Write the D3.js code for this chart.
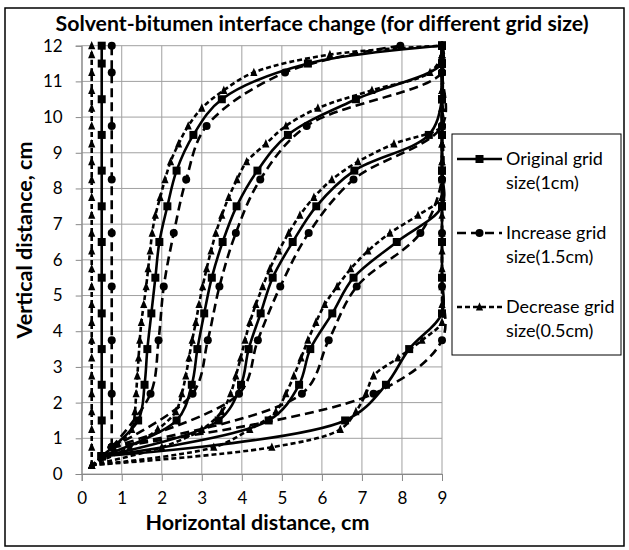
<!DOCTYPE html>
<html><head><meta charset="utf-8">
<script src="https://cdn.jsdelivr.net/npm/d3@7"></script>
<style>body{margin:0;background:#fff;} text{font-family:Lato,'Open Sans',sans-serif;fill:#000;}</style>
</head><body><svg id="c" width="629" height="550"></svg>
<script>
// ---- data ----
const title = "Solvent-bitumen interface change (for different grid size)";
const xLabel = "Horizontal distance, cm";
const yLabel = "Vertical distance, cm";
const xTicks = [0,1,2,3,4,5,6,7,8,9];
const yTicks = [0,1,2,3,4,5,6,7,8,9,10,11,12];
const seriesNames = [["Original grid","size(1cm)"],["Increase grid","size(1.5cm)"],["Decrease grid","size(0.5cm)"]];

// Original grid (1cm): vertical positions and interface x for 6 time steps
const yOrig = [0.5,1.5,2.5,3.5,4.5,5.5,6.5,7.5,8.5,9.5,10.5,11.5,12];
const orig1 = [0.5,0.5,0.5,0.5,0.5,0.5,0.5,0.5,0.5,0.5,0.5,0.5,0.5];
const orig2 = [0.5,1.41,1.57,1.64,1.74,1.84,1.94,2.14,2.37,2.79,3.5,5.65,9];
const orig3 = [0.5,2.37,2.75,2.89,3.06,3.25,3.52,3.87,4.39,5.15,6.85,9,9];
const orig4 = [0.5,3.42,3.98,4.17,4.47,4.77,5.27,5.86,6.81,8.67,9,9,9];
const orig5 = [0.5,4.67,5.43,5.71,6.26,6.79,7.87,9,9,9,9,9,9];
const orig6 = [0.5,6.58,7.6,8.18,9,9,9,9,9,9,9,9,9];

// Increase grid (1.5cm)
const yInc = [0.75,2.25,3.75,5.25,6.75,8.25,9.75,11.25,12];
const inc1 = [0.75,0.75,0.75,0.75,0.75,0.75,0.75,0.75,0.75];
const inc2 = [0.75,1.72,1.92,2.05,2.3,2.61,3.12,5.08,7.96];
const inc3 = [0.75,2.77,3.15,3.44,3.85,4.46,5.62,9,9];
const inc4 = [0.75,3.93,4.4,4.96,5.67,6.79,9,9,9];
const inc5 = [0.75,5.5,6.17,6.87,8.46,9,9,9,9];
const inc6 = [0.75,7.29,9,9,9,9,9,9,9];

// Decrease grid (0.5cm)
const yDec = [0.25,0.75,1.25,1.75,2.25,2.75,3.25,3.75,4.25,4.75,5.25,5.75,6.25,6.75,7.25,7.75,8.25,8.75,9.25,9.75,10.25,10.75,11.25,11.75,12];
const dec1 = [0.25,0.25,0.25,0.25,0.25,0.25,0.25,0.25,0.25,0.25,0.25,0.25,0.25,0.25,0.25,0.25,0.25,0.25,0.25,0.25,0.25,0.25,0.25,0.25,0.25];
const dec2 = [0.25,0.8,1.25,1.33,1.36,1.39,1.42,1.45,1.49,1.55,1.61,1.66,1.71,1.76,1.84,1.96,2.08,2.22,2.42,2.66,3.0,3.55,4.3,6.2,9];
const dec3 = [0.25,1.2,1.9,2.35,2.5,2.6,2.68,2.76,2.85,2.93,3.02,3.12,3.23,3.35,3.5,3.67,3.88,4.12,4.6,5.1,5.9,7.25,8.7,9,9];
const dec4 = [0.25,2.0,3.0,3.5,3.72,3.85,3.97,4.08,4.2,4.35,4.52,4.7,4.92,5.17,5.45,5.8,6.25,6.9,7.8,9,9,9,9,9,9];
const dec5 = [0.25,3.3,4.2,4.85,5.1,5.3,5.48,5.65,5.85,6.07,6.38,6.72,7.15,7.7,8.4,9,9,9,9,9,9,9,9,9,9];
const dec6 = [0.25,4.75,6.46,6.85,7.1,7.29,7.9,8.5,9,9,9,9,9,9,9,9,9,9,9,9,9,9,9,9,9];

// ---- build ----
const series = [
  {ys: yOrig, curves: [orig1,orig2,orig3,orig4,orig5,orig6], dash: null, marker: "square"},
  {ys: yInc,  curves: [inc1,inc2,inc3,inc4,inc5,inc6], dash: "9,5", marker: "circle"},
  {ys: yDec,  curves: [dec1,dec2,dec3,dec4,dec5,dec6], dash: "5,3", marker: "triangle"}
];

const svg = d3.select("#c");
const x = d3.scaleLinear().domain([0,9]).range([81.7,442]);
const y = d3.scaleLinear().domain([0,12]).range([474,45.7]);
const FONT = "Lato,'Open Sans',sans-serif";

// outer border
svg.append("rect").attr("x",5).attr("y",8).attr("width",619).attr("height",538)
  .attr("fill","#fff").attr("stroke","#000").attr("stroke-width",1.5);

// grid
const g = svg.append("g");
g.selectAll(".vg").data(xTicks).join("line")
  .attr("x1",d=>x(d)).attr("x2",d=>x(d)).attr("y1",y(0)).attr("y2",y(12))
  .attr("stroke","#a0a0a0").attr("stroke-width",1);
g.selectAll(".hg").data(yTicks).join("line")
  .attr("x1",x(0)).attr("x2",x(9)).attr("y1",d=>y(d)).attr("y2",d=>y(d))
  .attr("stroke","#a0a0a0").attr("stroke-width",1);

// axes
const ax = svg.append("g").attr("transform",`translate(0,${y(0)})`)
  .call(d3.axisBottom(x).tickValues(xTicks).tickFormat(d3.format("d")).tickSize(7).tickPadding(11));
const ay = svg.append("g").attr("transform",`translate(${x(0)},0)`)
  .call(d3.axisLeft(y).tickValues(yTicks).tickFormat(d3.format("d")).tickSize(6).tickPadding(13));
[ax,ay].forEach(a=>{
  a.select(".domain").attr("stroke","#888");
  a.selectAll(".tick line").attr("stroke","#888");
  a.selectAll(".tick text").style("font-size","17px").style("font-family",FONT).attr("fill","#000");
});

// series
const line = d3.line().x(d=>x(d[0])).y(d=>y(d[1])).curve(d3.curveCatmullRom.alpha(0.5));
function drawMarker(sel, type, size){
  if(type==="square"){
    sel.append("rect").attr("x",-size/2).attr("y",-size/2).attr("width",size).attr("height",size).attr("fill","#000");
  } else if(type==="circle"){
    sel.append("circle").attr("r",size/2).attr("fill","#000");
  } else {
    const h=size;
    sel.append("path").attr("d",`M0,${-h*0.6}L${h*0.45},${h*0.45}L${-h*0.45},${h*0.45}Z`).attr("fill","#000");
  }
}
series.forEach(s=>{
  s.curves.forEach(c=>{
    const pts = c.map((v,i)=>[v,s.ys[i]]);
    svg.append("path").attr("d",line(pts)).attr("fill","none").attr("stroke","#000")
      .attr("stroke-width",2.6).attr("stroke-dasharray",s.dash);
    svg.append("g").selectAll("g").data(pts).join("g")
      .attr("transform",d=>`translate(${x(d[0])},${y(d[1])})`)
      .each(function(){ drawMarker(d3.select(this), s.marker, 8); });
  });
});

// title & axis labels
svg.append("text").attr("x",322).attr("y",31).attr("text-anchor","middle")
  .style("font-size","21.3px").style("font-weight","bold").text(title);
svg.append("text").attr("x",257.5).attr("y",530).attr("text-anchor","middle")
  .style("font-size","21.5px").style("font-weight","bold").text(xLabel);
svg.append("text").attr("transform","translate(32,240) rotate(-90)").attr("text-anchor","middle")
  .style("font-size","21.5px").style("font-weight","bold").text(yLabel);

// legend
svg.append("rect").attr("x",452).attr("y",134).attr("width",169).attr("height",221)
  .attr("fill","#fff").attr("stroke","#000").attr("stroke-width",1);
const legY = [159,233,307];
series.forEach((s,i)=>{
  const lg = svg.append("g");
  lg.append("line").attr("x1",457).attr("x2",502).attr("y1",legY[i]).attr("y2",legY[i])
    .attr("stroke","#000").attr("stroke-width",2.6).attr("stroke-dasharray",s.dash);
  const m = lg.append("g").attr("transform",`translate(479.5,${legY[i]})`);
  drawMarker(m, s.marker, 8);
  lg.append("text").attr("x",506).attr("y",legY[i]+6).style("font-size","18px").text(seriesNames[i][0]);
  lg.append("text").attr("x",506).attr("y",legY[i]+30).style("font-size","18px").text(seriesNames[i][1]);
});
</script></body></html>
